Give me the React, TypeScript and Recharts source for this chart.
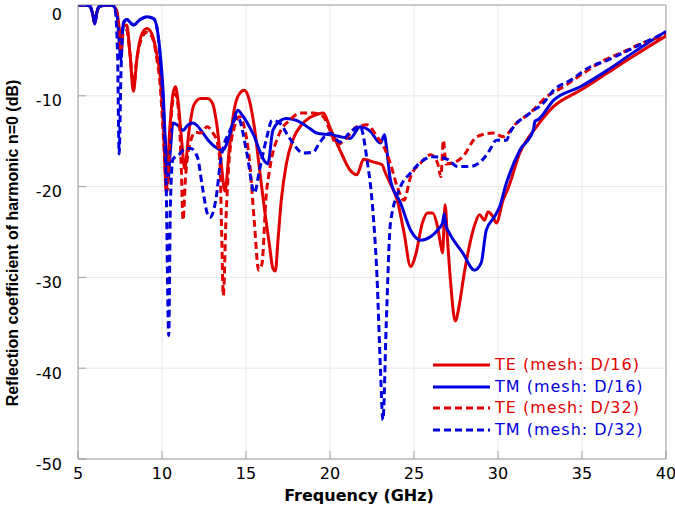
import React from 'react';
import { LineChart, Line, XAxis, YAxis, CartesianGrid, ReferenceLine } from 'recharts';

const RED = '#e00000';
const BLUE = '#0000dc';
const AXIS = '#a0a0a0';

const xTicks = [5, 10, 15, 20, 25, 30, 35, 40];
const yTicks = [-50, -40, -30, -20, -10, 0];

// TE, mesh D/16 (solid red)
const teD16Freq = [5, 5.7, 5.9, 6.0, 6.1, 6.3, 7.0, 7.3, 7.45, 7.55, 7.7, 7.9, 8.1, 8.3, 8.5, 8.8, 9.1, 9.4, 9.7, 9.9, 10.1, 10.25, 10.45, 10.65, 10.8, 10.95, 11.15, 11.35, 11.6, 11.9, 12.3, 12.7, 13.0, 13.25, 13.5, 13.75, 14.0, 14.3, 14.6, 14.9, 15.2, 15.5, 15.8, 16.1, 16.4, 16.6, 16.75, 16.9, 17.1, 17.4, 17.8, 18.3, 18.8, 19.3, 19.6, 20.0, 20.6, 21.2, 21.6, 22.0, 22.6, 23.1, 23.3, 23.6, 24.0, 24.4, 24.8, 25.1, 25.5, 25.8, 26.1, 26.4, 26.6, 26.7, 26.85, 27.0, 27.2, 27.45, 27.7, 27.95, 28.3, 28.6, 28.9, 29.2, 29.4, 29.7, 29.9, 30.3, 30.6, 31.3, 32.3, 33.3, 34.9, 36.5, 38.0, 40.0];
const teD16Db = [0, -0.1, -1.2, -2.0, -1.0, -0.1, 0, -0.6, -2.5, -4.0, -2.3, -2.2, -5.5, -9.5, -6.0, -3.2, -2.6, -3.2, -5.5, -8.0, -14, -20.5, -14, -9.8, -9.0, -10.5, -14.5, -18.0, -14, -11, -10.3, -10.3, -10.8, -13, -17, -20.5, -16, -11.5, -9.8, -9.4, -10.5, -13.5, -18, -22.5, -26.5, -29, -29.3, -26, -21.5, -17.5, -14.8, -13.2, -12.4, -12.0, -11.9, -13.5, -16, -18.2, -18.7, -17, -17.3, -17.6, -18.5, -19.7, -21.5, -25, -28.8, -27.5, -24, -22.9, -22.9, -24.4, -26.5, -27.3, -22.0, -26, -31, -34.8, -33, -30, -26.5, -24.3, -23.1, -23.7, -22.8, -23.3, -24, -21.5, -20.2, -16.3, -13.4, -11.2, -9.4, -7.5, -5.7, -3.4];

// TM, mesh D/16 (solid blue)
const tmD16Freq = [5, 5.7, 5.9, 6.0, 6.1, 6.3, 7.0, 7.3, 7.45, 7.55, 7.7, 7.9, 8.3, 8.7, 9.1, 9.5, 9.7, 9.9, 10.05, 10.2, 10.35, 10.5, 10.65, 10.9, 11.25, 11.55, 11.85, 12.1, 12.4, 12.8, 13.3, 13.6, 14.0, 14.3, 14.5, 14.8, 15.2, 15.5, 15.8, 16.1, 16.3, 16.6, 17.0, 17.4, 18.0, 18.8, 19.2, 20.0, 20.6, 21.2, 21.8, 22.4, 23.0, 23.25, 23.35, 23.6, 24.2, 24.8, 25.4, 26.0, 26.4, 26.7, 26.8, 26.9, 27.1, 27.9, 28.6, 29.0, 29.3, 29.8, 30.1, 30.5, 31.3, 32.1, 32.2, 32.4, 33.3, 34.9, 36.5, 38.0, 40.0];
const tmD16Db = [0, -0.1, -1.2, -2.1, -1.0, -0.1, 0, -0.8, -4, -6, -2, -1.6, -2.2, -1.6, -1.3, -1.5, -2.5, -5.5, -9, -15, -19.5, -16, -13, -13.2, -13.8, -13.2, -13.0, -13.3, -14, -15, -15.8, -16, -14.5, -12.5, -11.6, -12.2, -13.4, -14.5, -16, -17.2, -17.5, -13.8, -12.8, -12.5, -12.7, -13.6, -14.1, -14.3, -14.5, -14.7, -13.4, -13.9, -15.2, -14.3, -15.5, -19.3, -21.8, -24.8, -25.9, -25.5, -24.8, -24, -23, -24.3, -25.1, -27.3, -29.2, -28.4, -24.8, -23.3, -22.2, -19.6, -16, -13.8, -12.8, -12.6, -10.5, -9, -7.2, -5.3, -2.9];

// TE, mesh D/32 (dashed red)
const teD32Freq = [5, 5.7, 5.9, 6.0, 6.1, 6.3, 7.0, 7.3, 7.45, 7.55, 7.7, 7.9, 8.1, 8.3, 8.5, 8.8, 9.1, 9.4, 9.7, 9.9, 10.1, 10.3, 10.5, 10.7, 10.8, 11.0, 11.15, 11.25, 11.4, 11.7, 12.0, 12.3, 12.7, 13.0, 13.3, 13.45, 13.55, 13.65, 13.8, 14.0, 14.3, 14.6, 14.9, 15.2, 15.5, 15.75, 15.95, 16.2, 16.4, 17.0, 17.6, 18.2, 19.0, 19.6, 20.0, 20.4, 21.0, 21.6, 22.2, 22.8, 23.2, 23.6, 24.0, 24.4, 24.8, 25.4, 26.0, 26.4, 26.6, 26.75, 26.9, 27.3, 27.9, 28.75, 29.7, 30.3, 31.1, 31.9, 32.9, 33.9, 35.1, 36.3, 37.3, 38.6, 40.0];
const teD32Db = [0, -0.1, -1.2, -2, -1, -0.1, 0, -0.8, -3.5, -5.2, -3, -2.8, -5.5, -9.0, -6, -3.6, -3.0, -3.5, -6, -9, -15, -20.5, -13.5, -10, -9.8, -12, -18, -23.7, -19, -15, -14, -14.1, -13.4, -14, -15.2, -17.4, -25, -32, -24, -17, -13.5, -12.3, -13.5, -17, -24, -29.2, -28.5, -21, -18.2, -14.1, -12.7, -11.9, -11.9, -12.3, -13.8, -15.4, -14.6, -13.4, -13.2, -14.5, -15.6, -17.5, -20, -21.5, -18.9, -17.4, -16.5, -17.4, -18.9, -14.9, -17.5, -17.4, -16.7, -14.5, -14.1, -14.5, -13, -11.9, -10.1, -9, -7.5, -6.1, -5.3, -4.2, -3.3];

// TM, mesh D/32 (dashed blue)
const tmD32Freq = [5, 5.7, 5.9, 6.0, 6.1, 6.3, 7.0, 7.2, 7.35, 7.45, 7.55, 7.7, 7.9, 8.3, 8.7, 9.1, 9.5, 9.7, 9.9, 10.1, 10.25, 10.4, 10.5, 10.65, 11.0, 11.4, 11.7, 12.1, 12.4, 12.7, 12.86, 13.2, 13.5, 14.05, 14.5, 15.05, 15.5, 15.8, 16.25, 16.55, 17.0, 17.6, 18.4, 19.0, 19.4, 20.0, 20.6, 21.2, 21.8, 22.2, 22.55, 22.8, 23.0, 23.15, 23.35, 23.6, 24.2, 24.8, 25.4, 26.1, 27.0, 27.6, 28.3, 29.1, 29.5, 29.9, 30.5, 30.7, 31.9, 32.7, 33.3, 34.3, 35.5, 36.5, 37.4, 40.0];
const tmD32Db = [0, -0.1, -1.2, -2, -1, -0.1, 0, -0.5, -5, -16.4, -8, -2, -1.6, -2.2, -1.6, -1.3, -1.5, -2.5, -6, -12, -20, -36.4, -22, -17, -16.5, -15.8, -15.8, -16.7, -20, -23, -23.4, -21.5, -17, -13.8, -12.3, -16.3, -20.7, -18.2, -14.5, -12.7, -13, -14.7, -16.3, -16.2, -15.1, -14.1, -15.1, -14, -13.4, -17, -22.6, -30, -40, -45.7, -35, -24, -20, -18.5, -17.3, -16.7, -17, -17.8, -17.8, -17, -16, -14.9, -14.9, -14.1, -11.9, -10.8, -9.4, -8.3, -6.8, -6.1, -5.3, -3.0];

const toRows = (freq: number[], db: number[]) => freq.map((f, i) => ({ f, db: db[i] }));

const series = [
  { name: 'TE (mesh: D/16)', color: RED, dash: undefined, data: toRows(teD16Freq, teD16Db) },
  { name: 'TM (mesh: D/16)', color: BLUE, dash: undefined, data: toRows(tmD16Freq, tmD16Db) },
  { name: 'TE (mesh: D/32)', color: RED, dash: '7 4', data: toRows(teD32Freq, teD32Db) },
  { name: 'TM (mesh: D/32)', color: BLUE, dash: '7 4', data: toRows(tmD32Freq, tmD32Db) },
];

// legend sits inside the plot, lower right, with no box
const ChartLegend = () => (
  <div style={{ position: 'absolute', left: 433, top: 354 }}>
    {series.map((s) => (
      <div key={s.name} style={{ display: 'flex', alignItems: 'center', height: 21.7 }}>
        <svg width={57} height={6}>
          <line x1={0} y1={3} x2={57} y2={3} stroke={s.color} strokeWidth={3} strokeDasharray={s.dash} />
        </svg>
        <span style={{ marginLeft: 5, color: s.color, fontFamily: '"DejaVu Sans", sans-serif', fontSize: 16, letterSpacing: 1, whiteSpace: 'nowrap', lineHeight: '21.7px' }}>
          {s.name}
        </span>
      </div>
    ))}
  </div>
);

const renderYLabel = (props: any) => {
  const vb = props.viewBox;
  const cx = vb.x + 18;
  const cy = vb.y + vb.height / 2 + 11;
  return (
    <text
      x={cx}
      y={cy}
      transform={`rotate(-90, ${cx}, ${cy})`}
      textAnchor="middle"
      fontFamily='"Liberation Sans", Arial, sans-serif'
      fontWeight="bold"
      fontSize={16}
      fill="#000"
    >
      Reflection coefficient of harmonic n=0 (dB)
    </text>
  );
};

export default function App() {
  return (
    <div style={{ position: 'absolute', left: 0, top: 0, width: 675, height: 507, background: '#fff' }}>
      <LineChart width={675} height={507} margin={{ top: 5, right: 9, left: 0, bottom: 0 }}>
        <CartesianGrid stroke="#e8e8e8" />
        <XAxis
          dataKey="f"
          type="number"
          domain={[5, 40]}
          ticks={xTicks}
          allowDataOverflow
          height={48}
          stroke={AXIS}
          tickSize={-8}
          tickMargin={17}
          tick={{ fill: '#000', fontSize: 16, fontFamily: '"DejaVu Sans", sans-serif' }}
          label={{ value: 'Frequency (GHz)', position: 'insideBottom', offset: 6, dx: -13, fill: '#000', fontSize: 16, fontWeight: 'bold', fontFamily: '"DejaVu Sans", sans-serif' }}
        />
        <YAxis
          type="number"
          domain={[-50, 0]}
          ticks={yTicks}
          allowDataOverflow
          width={78}
          stroke={AXIS}
          tickSize={-8}
          tickMargin={24}
          tick={{ fill: '#000', fontSize: 16, fontFamily: '"DejaVu Sans", sans-serif', dy: 5 }}
          label={{ content: renderYLabel }}
        />
        <ReferenceLine y={0} stroke={AXIS} />
        <ReferenceLine x={40} stroke={AXIS} />
        {series.map((s) => (
          <Line
            key={s.name}
            data={s.data}
            dataKey="db"
            name={s.name}
            type="monotone"
            stroke={s.color}
            strokeWidth={3}
            strokeDasharray={s.dash}
            dot={false}
            isAnimationActive={false}
          />
        ))}
      </LineChart>
      <ChartLegend />
    </div>
  );
}
